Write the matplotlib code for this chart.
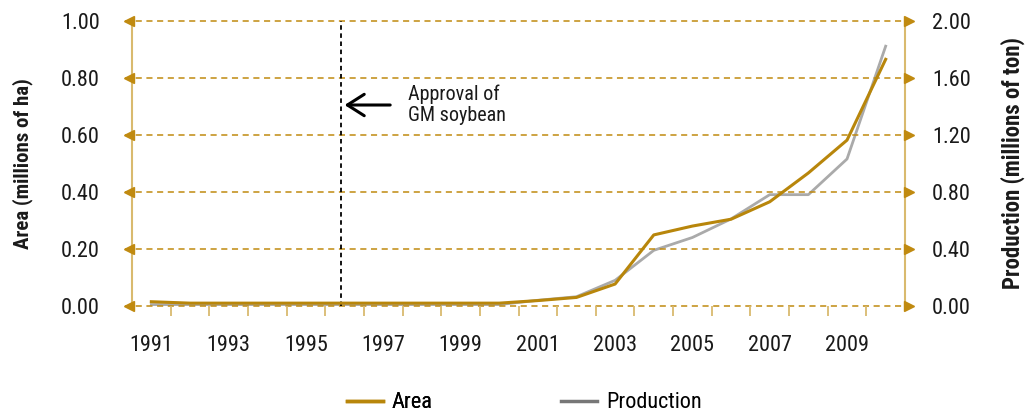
import matplotlib
matplotlib.use("Agg")
import matplotlib.pyplot as plt
from matplotlib.lines import Line2D
from matplotlib import font_manager as fm
import numpy as np

names = {f.name for f in fm.fontManager.ttflist}
fam = [f for f in ["Liberation Sans Narrow", "Roboto Condensed", "Roboto", "DejaVu Sans"] if f in names]
plt.rcParams['font.family'] = fam

years = list(range(1991, 2011))
area = [0.015, 0.01, 0.01, 0.01, 0.01, 0.01, 0.01, 0.01, 0.01, 0.01,
        0.019, 0.03, 0.077, 0.249, 0.28, 0.304, 0.365, 0.466, 0.581, 0.864]
production = [0.01, 0.01, 0.01, 0.01, 0.01, 0.01, 0.01, 0.01, 0.01, 0.01,
              0.04, 0.065, 0.18, 0.39, 0.48, 0.61, 0.78, 0.78, 1.03, 1.82]
year_labels = [str(y) for y in years[::2]]
left_ticks = [0.0, 0.2, 0.4, 0.6, 0.8, 1.0]
right_ticks = [0.0, 0.4, 0.8, 1.2, 1.6, 2.0]

GOLD = "#B8860B"
GRID = "#C08A10"
SPINE = "#D9BA6E"
GRAY = "#AAAAAA"
LEG_GRAY = "#777777"
TXT = "#1a1a1a"

W, H = 1032, 416
fig = plt.figure(figsize=(W / 100, H / 100), dpi=100)
ax = fig.add_axes([132 / W, 110 / H, (905 - 132) / W, (306 - 20.5) / H])
ax2 = ax.twinx()

x = np.arange(len(years))
ax.set_xlim(-0.5, len(years) - 0.5)
ax.set_ylim(0, 1.0)
ax2.set_ylim(0, 2.0)

# gridlines with arrowheads
yt = ax.get_yaxis_transform()
for yv in left_ticks:
    ax.plot([-0.009, 1.010], [yv, yv], transform=yt,
            color=GRID, lw=1.1, ls=(0, (4, 3)), clip_on=False, zorder=1)
    ax.plot([-0.0045], [yv], transform=yt, marker='<',
            ms=6.5, color=GRID, mec=GRID, clip_on=False, zorder=3)
    ax.plot([1.0055], [yv], transform=yt, marker='>',
            ms=6.5, color=GRID, mec=GRID, clip_on=False, zorder=3)

ax2.plot(x, production, color=GRAY, lw=2, zorder=4)
ax.plot(x, area, color=GOLD, lw=2.2, zorder=5)
ax.set_zorder(ax2.get_zorder() + 1)
ax.patch.set_visible(False)

# vertical dotted line for approval
ax.axvline(4.92, color="black", lw=1.3, ls=(0, (2.5, 2)), zorder=2)
ax.annotate("", xy=(5.0, 0.704), xytext=(6.18, 0.704),
            arrowprops=dict(arrowstyle="->,head_length=0.55,head_width=0.35",
                            color="black", lw=2.2,
                            mutation_scale=22, shrinkA=0, shrinkB=0))
ax.text(6.64, 0.704, "Approval of\nGM soybean", fontsize=14.5, va="center",
        ha="left", linespacing=1.15, color=TXT)

# axes styling
for a in (ax, ax2):
    for s in ("top", "bottom"):
        a.spines[s].set_visible(False)
ax.spines["right"].set_visible(False)
ax2.spines["left"].set_visible(False)
ax.spines["left"].set_color(SPINE)
ax.spines["left"].set_linewidth(1.5)
ax2.spines["right"].set_color(SPINE)
ax2.spines["right"].set_linewidth(1.5)

ax.set_yticks(left_ticks)
ax.set_yticklabels([f"{v:.2f}" for v in left_ticks])
ax2.set_yticks(right_ticks)
ax2.set_yticklabels([f"{v:.2f}" for v in right_ticks])
ax.tick_params(axis="y", length=0, pad=23, labelsize=16, labelcolor=TXT)
ax2.tick_params(axis="y", length=0, pad=19.5, labelsize=16, labelcolor=TXT)

ax.set_xticks(x[::2])
ax.set_xticklabels(year_labels)
ax.set_xticks(np.arange(0.5, len(years) - 1, 1.0), minor=True)
ax.tick_params(axis="x", which="major", length=0, pad=21, labelsize=16,
               labelcolor=TXT)
ax.tick_params(axis="x", which="minor", length=7, width=1.3, color=SPINE,
               direction="out")

ax.set_ylabel("Area (millions of ha)", fontsize=15, fontweight="bold",
              labelpad=20.5, color=TXT)
ax2.set_ylabel("Production (millions of ton)", fontsize=16.5, fontweight="bold",
               labelpad=21, color=TXT)

leg1 = fig.legend([Line2D([], [], color=GOLD, lw=2.5)], ["Area"],
                  loc="center left", bbox_to_anchor=(347 / W, 1 - 403 / H),
                  frameon=False, fontsize=16, handlelength=1.62,
                  handletextpad=0.4, borderpad=0, borderaxespad=0)
leg2 = fig.legend([Line2D([], [], color=LEG_GRAY, lw=2.5)], ["Production"],
                  loc="center left", bbox_to_anchor=(561 / W, 1 - 403 / H),
                  frameon=False, fontsize=16, handlelength=1.62,
                  handletextpad=0.4, borderpad=0, borderaxespad=0)
fig.add_artist(leg1)

fig.savefig("out.png", dpi=100)
